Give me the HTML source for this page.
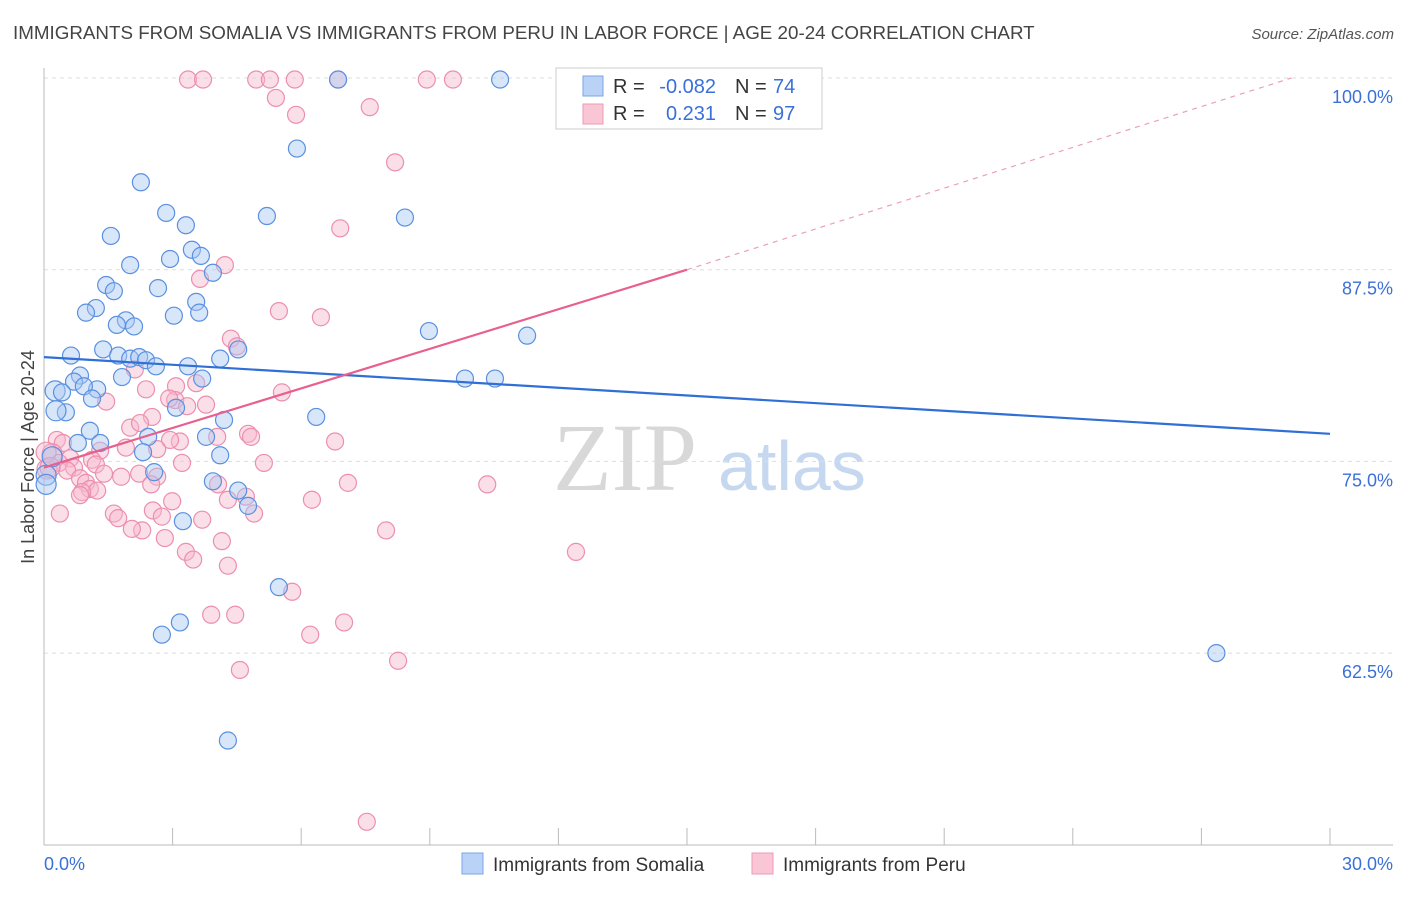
<!DOCTYPE html>
<html><head><meta charset="utf-8"><style>
body{margin:0;background:#fff;font-family:"Liberation Sans",sans-serif;}
</style></head><body>
<svg id="chart" width="1406" height="892" xmlns="http://www.w3.org/2000/svg" font-family="Liberation Sans, sans-serif">
<text x="13" y="39" font-size="18.8" fill="#444">IMMIGRANTS FROM SOMALIA VS IMMIGRANTS FROM PERU IN LABOR FORCE | AGE 20-24 CORRELATION CHART</text>
<text x="1394" y="39" font-size="15" fill="#555" font-style="italic" text-anchor="end">Source: ZipAtlas.com</text>
<text transform="translate(34,457) rotate(-90)" font-size="18" fill="#444" text-anchor="middle">In Labor Force | Age 20-24</text>
<g>
<text x="553" y="490" font-size="96" fill="#d8d8d8" font-family="Liberation Serif, serif">ZIP</text>
<text x="718" y="490" font-size="70" fill="#c6d8ef">atlas</text>
</g>
<g id="grid"></g><g id="axes"></g><g id="pts"></g><g id="lines"></g>
<g>
<rect x="556" y="68" width="266" height="61" fill="#fff" stroke="#ccc"/>
<rect x="583" y="76" width="20" height="20" fill="#b9d2f5" stroke="#7aa6e6"/>
<rect x="583" y="104" width="20" height="20" fill="#f9c6d6" stroke="#ee99b4"/>
<text x="613" y="93" font-size="20" fill="#333">R = </text>
<text x="716" y="93" font-size="20" fill="#3a70d8" text-anchor="end">-0.082</text>
<text x="735" y="93" font-size="20" fill="#333">N = </text>
<text x="773" y="93" font-size="20" fill="#3a70d8">74</text>
<text x="613" y="120" font-size="20" fill="#333">R = </text>
<text x="716" y="120" font-size="20" fill="#3a70d8" text-anchor="end">0.231</text>
<text x="735" y="120" font-size="20" fill="#333">N = </text>
<text x="773" y="120" font-size="20" fill="#3a70d8">97</text>
</g>
<g>
<rect x="462" y="853" width="21" height="21" fill="#b9d2f5" stroke="#7aa6e6"/>
<text x="493" y="871" font-size="19" fill="#333">Immigrants from Somalia</text>
<rect x="752" y="853" width="21" height="21" fill="#f9c6d6" stroke="#ee99b4"/>
<text x="783" y="871" font-size="19" fill="#333">Immigrants from Peru</text>
</g>
</svg>
<script>
const NS="http://www.w3.org/2000/svg";
const xTicks=[0,3,6,9,12,15,18,21,24,27,30];
const yTicks=[62.5,75,87.5,100];
const yTickLabels=["62.5%","75.0%","87.5%","100.0%"];
const xEndLabels=["0.0%","30.0%"];
const somaliaX=[6.86,10.64,5.9,2.26,2.85,5.2,8.42,3.31,1.56,3.45,3.66,2.94,2.01,3.94,1.45,1.63,2.66,3.55,1.21,0.98,3.03,3.62,1.91,1.7,2.1,8.98,11.27,1.38,4.53,0.63,1.73,2.01,2.22,2.38,4.11,2.61,3.36,1.82,0.84,0.7,3.69,9.82,10.52,0.26,0.42,1.24,0.93,1.12,3.08,0.51,0.28,6.35,4.2,1.07,2.43,0.79,1.31,3.78,2.31,4.11,2.57,0.05,3.94,4.53,4.76,3.24,5.48,3.17,2.75,27.35,4.29,0.05,0.19];
const somaliaY=[99.9,99.9,95.4,93.2,91.2,91.0,90.9,90.4,89.7,88.8,88.4,88.2,87.8,87.3,86.5,86.1,86.3,85.4,85.0,84.7,84.5,84.7,84.2,83.9,83.8,83.5,83.2,82.3,82.3,81.9,81.9,81.7,81.8,81.6,81.7,81.2,81.2,80.5,80.6,80.2,80.4,80.4,80.4,79.6,79.5,79.7,79.9,79.1,78.5,78.2,78.3,77.9,77.7,77.0,76.6,76.2,76.2,76.6,75.6,75.4,74.3,74.1,73.7,73.1,72.1,71.1,66.8,64.5,63.7,62.5,56.8,73.5,75.3];
const peruX=[3.36,3.71,4.95,5.27,5.85,6.86,8.93,9.54,5.41,7.6,5.88,8.19,6.91,4.22,3.64,5.48,6.46,4.36,4.5,2.12,2.38,3.08,3.55,5.55,1.45,3.06,2.92,3.78,3.34,2.52,4.76,4.83,6.79,2.01,3.17,2.94,0.3,4.04,0.44,1.31,1.91,2.64,0.19,0.61,1.12,1.21,0.35,5.13,3.22,0.07,0.7,0.54,2.22,2.64,1.4,1.8,7.09,10.34,0.84,0.98,1.07,2.5,4.06,1.24,0.89,2.99,6.25,4.71,4.9,2.54,1.63,1.73,0.37,2.75,3.69,2.29,2.05,7.98,12.41,2.82,4.15,3.31,3.48,4.29,5.79,3.9,4.46,6.21,7.0,4.57,8.26,7.53,0.05,0.14,0.84,2.24,4.29];
const peruY=[99.9,99.9,99.9,99.9,99.9,99.9,99.9,99.9,98.7,98.1,97.6,94.5,90.2,87.8,86.9,84.8,84.4,83.0,82.5,81.0,79.7,79.9,80.1,79.5,78.9,79.0,79.1,78.7,78.6,77.9,76.8,76.6,76.3,77.2,76.3,76.4,76.4,76.6,76.2,75.7,75.9,75.8,75.5,75.2,75.1,74.8,74.9,74.9,74.9,74.5,74.6,74.4,74.2,74.0,74.2,74.0,73.6,73.5,73.9,73.6,73.2,73.5,73.5,73.1,73.0,72.4,72.5,72.7,71.6,71.8,71.6,71.3,71.6,71.4,71.2,70.5,70.6,70.5,69.1,70.0,69.8,69.1,68.6,68.2,66.5,65.0,65.0,63.7,64.5,61.4,62.0,51.5,75.6,74.6,72.8,77.5,72.5];
const blueTrend=[81.8,76.8];
const pinkTrend=[74.6,87.5,100];
const pinkTrendX=[0,15,29.1];
const X=v=>44+v/30*1286, Y=v=>78+(100-v)/12.5*191.7;
function mk(t,a,p){const e=document.createElementNS(NS,t);for(const k in a)e.setAttribute(k,a[k]);(p||document.getElementById('chart')).appendChild(e);return e;}
const grid=document.getElementById('grid'),axes=document.getElementById('axes'),pts=document.getElementById('pts'),lines=document.getElementById('lines');
yTicks.forEach((v,i)=>{
 const g=mk('line',{x1:44,x2:1393,y1:Y(v),y2:Y(v),stroke:'#ddd','stroke-dasharray':'4,4'},grid);
 
 
 const t=mk('text',{x:1393,y:Y(v)+25,'font-size':18,fill:'#3a70d8','text-anchor':'end'},axes);t.textContent=yTickLabels[i];
 
 
});
const xa=mk('line',{x1:44,x2:1393,y1:845,y2:845,stroke:'#bbb'},axes);


const ya=mk('line',{x1:44,x2:44,y1:68,y2:845,stroke:'#bbb'},axes);


xTicks.forEach(v=>{const l=mk('line',{x1:X(v),x2:X(v),y1:828,y2:845,stroke:'#bbb'},axes);
 
 });
[[0,'start'],[30,'end']].forEach((o,i)=>{const t=mk('text',{x:i?1393:44,y:870,'font-size':18,fill:'#3a70d8','text-anchor':o[1]},axes);t.textContent=xEndLabels[i];
 
 });
function dots(xs,ys,fill,stroke,name){xs.forEach((x,i)=>{const c=mk('circle',{cx:X(x),cy:Y(ys[i]),r:(x<0.3?10:8.5),fill:fill,stroke:stroke,'stroke-width':1.2,'fill-opacity':0.45},pts);
 
 });}
dots(peruX,peruY,'#f7b9cc','#ec8fae','peru-point');
dots(somaliaX,somaliaY,'#a9c8f2','#5a90e0','somalia-point');
const bl=mk('line',{x1:X(0),y1:Y(blueTrend[0]),x2:X(30),y2:Y(blueTrend[1]),stroke:'#2f6fd6','stroke-width':2.2},lines);


const pl=mk('line',{x1:X(pinkTrendX[0]),y1:Y(pinkTrend[0]),x2:X(pinkTrendX[1]),y2:Y(pinkTrend[1]),stroke:'#e8608e','stroke-width':2.2},lines);


const pd=mk('line',{x1:X(pinkTrendX[1]),y1:Y(pinkTrend[1]),x2:X(pinkTrendX[2]),y2:Y(pinkTrend[2]),stroke:'#eba0bb','stroke-width':1.2,'stroke-dasharray':'5,5'},lines);


</script>
</body></html>
